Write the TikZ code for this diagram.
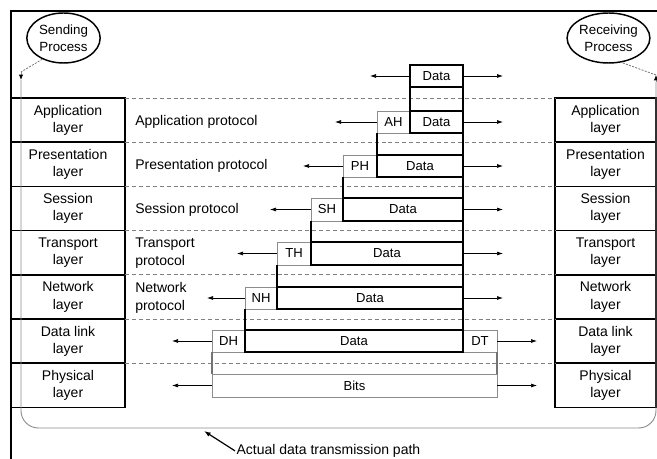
\documentclass[tikz,border=0pt]{standalone}
\usepackage{fontspec}
\setmainfont{Liberation Sans}
\usetikzlibrary{shapes.geometric,arrows.meta}
\newcommand{\bnode}[7]{\node[#1, minimum width={(#5-#3)*0.75pt}, minimum height={(#6-#4)*0.75pt}] (#2) at ({(#3+#5)/2},{(#4+#6)/2}) {#7};}
\tikzset{
 layerbox/.style={draw=black, line width=1.2pt, inner sep=0pt, outer sep=0pt, align=center, font=\fontsize{10.5}{13}\selectfont},
 databox/.style={draw=black, line width=1.1pt, fill=white, inner sep=0pt, outer sep=0pt, font=\fontsize{9.8}{11}\selectfont},
 hdrbox/.style={draw=black!45, line width=0.6pt, fill=white, inner sep=0pt, outer sep=0pt, font=\fontsize{9.8}{11}\selectfont},
 conn/.style={draw=black, line width=1pt},
 lowconn/.style={draw=black!55, line width=1.6pt},
 sidearrow/.style={draw=black, line width=0.5pt, -{Latex[length=4.5pt,width=3pt]}},
 rowdash/.style={draw=black!50, line width=0.5pt, dash pattern=on 3pt off 2.2pt},
 proto/.style={anchor=west, align=left, inner sep=0pt, font=\fontsize{10.5}{13}\selectfont},
 procell/.style={ellipse, draw=black, line width=1.1pt, minimum width=55pt, minimum height=37.5pt, inner sep=0pt, align=center, font=\fontsize{10}{12.5}\selectfont},
 pathline/.style={draw=black!45, line width=0.7pt},
 pathdot/.style={draw=black!55, line width=0.6pt, dash pattern=on 1.5pt off 1pt},
}
\begin{document}
\begin{tikzpicture}[x=0.75pt,y=-0.75pt]
\useasboundingbox (0,0) rectangle (657,459);
% frame
\draw[line width=1.5pt] (11,460) -- (11,11) -- (658,11);
% left layers
\bnode{layerbox}{lapp}{11}{98}{125}{142.2}{Application\\layer}
\bnode{layerbox}{lpre}{11}{142.2}{125}{186.4}{Presentation\\layer}
\bnode{layerbox}{lses}{11}{186.4}{125}{230.6}{Session\\layer}
\bnode{layerbox}{ltra}{11}{230.6}{125}{274.8}{Transport\\layer}
\bnode{layerbox}{lnet}{11}{274.8}{125}{319}{Network\\layer}
\bnode{layerbox}{ldl}{11}{319}{125}{363.2}{Data link\\layer}
\bnode{layerbox}{lphy}{11}{363.2}{125}{407.4}{Physical\\layer}
% right layers
\bnode{layerbox}{rapp}{555}{98}{656}{142.2}{Application\\layer}
\bnode{layerbox}{rpre}{555}{142.2}{656}{186.4}{Presentation\\layer}
\bnode{layerbox}{rses}{555}{186.4}{656}{230.6}{Session\\layer}
\bnode{layerbox}{rtra}{555}{230.6}{656}{274.8}{Transport\\layer}
\bnode{layerbox}{rnet}{555}{274.8}{656}{319}{Network\\layer}
\bnode{layerbox}{rdl}{555}{319}{656}{363.2}{Data link\\layer}
\bnode{layerbox}{rphy}{555}{363.2}{656}{407.4}{Physical\\layer}
% dashed row boundaries
\draw[rowdash] (lapp.north east) -- (rapp.north west);
\draw[rowdash] (lapp.south east) -- (rapp.south west);
\draw[rowdash] (lpre.south east) -- (rpre.south west);
\draw[rowdash] (lses.south east) -- (rses.south west);
\draw[rowdash] (ltra.south east) -- (rtra.south west);
\draw[rowdash] (lnet.south east) -- (rnet.south west);
\draw[rowdash] (ldl.south east) -- (rdl.south west);
% protocol labels
\node[proto] (papp) at (135,122) {Application protocol};
\node[proto] (ppre) at (135,166) {Presentation protocol};
\node[proto] (pses) at (135,210) {Session protocol};
\node[proto] (ptra) at (135,253) {Transport\\protocol};
\node[proto] (pnet) at (135,298) {Network\\protocol};
% stack
\bnode{databox}{d0}{410}{65}{463}{87}{Data}
\bnode{hdrbox}{ah}{377}{111}{410}{133}{AH}
\bnode{databox}{d1}{410}{111}{463}{133}{Data}
\bnode{hdrbox}{ph}{343}{155}{377}{177}{PH}
\bnode{databox}{d2}{377}{155}{463}{177}{Data}
\bnode{hdrbox}{sh}{311}{198}{343}{221}{SH}
\bnode{databox}{d3}{343}{198}{463}{221}{Data}
\bnode{hdrbox}{th}{277}{242}{311}{265}{TH}
\bnode{databox}{d4}{311}{242}{463}{265}{Data}
\bnode{hdrbox}{nh}{245}{287}{277}{309}{NH}
\bnode{databox}{d5}{277}{287}{463}{309}{Data}
\bnode{hdrbox}{dh}{212}{330}{245}{352}{DH}
\bnode{hdrbox}{dt}{463}{330}{497}{352}{DT}
\bnode{databox}{d6}{245}{330}{463}{352}{Data}
\bnode{hdrbox}{bits}{212}{374}{497}{397}{Bits}
% connectors between units
\draw[conn] (d0.south west) -- (d1.north west);
\draw[conn] (d0.south east) -- (d1.north east);
\draw[conn] (ah.south west) -- (d2.north west);
\draw[conn] (d1.south east) -- (d2.north east);
\draw[conn] (ph.south west) -- (d3.north west);
\draw[conn] (d2.south east) -- (d3.north east);
\draw[conn] (sh.south west) -- (d4.north west);
\draw[conn] (d3.south east) -- (d4.north east);
\draw[conn] (th.south west) -- (d5.north west);
\draw[conn] (d4.south east) -- (d5.north east);
\draw[conn] (nh.south west) -- (d6.north west);
\draw[conn] (d5.south east) -- (d6.north east);
\draw[lowconn] (dh.south west) -- (bits.north west);
\draw[lowconn] (dt.south east) -- (bits.north east);
% side arrows
\draw[sidearrow] (d0.west) -- ++(-40,0);
\draw[sidearrow] (d0.east) -- ++(40,0);
\draw[sidearrow] (ah.west) -- ++(-42,0);
\draw[sidearrow] (d1.east) -- ++(40,0);
\draw[sidearrow] (ph.west) -- ++(-40,0);
\draw[sidearrow] (d2.east) -- ++(40,0);
\draw[sidearrow] (sh.west) -- ++(-41,0);
\draw[sidearrow] (d3.east) -- ++(40,0);
\draw[sidearrow] (th.west) -- ++(-40,0);
\draw[sidearrow] (d4.east) -- ++(40,0);
\draw[sidearrow] (nh.west) -- ++(-38,0);
\draw[sidearrow] (d5.east) -- ++(40,0);
\draw[sidearrow] (dh.west) -- ++(-40,0);
\draw[sidearrow] (dt.east) -- ++(40,0);
\draw[sidearrow] (bits.west) -- ++(-40,0);
\draw[sidearrow] (bits.east) -- ++(40,0);
% processes
\node[procell] (sp) at (63.5,38) {Sending\\Process};
\node[procell] (rp) at (608.5,38) {Receiving\\Process};
% transmission path
\coordinate (sa) at (21,72);
\coordinate (sb) at (21,80);
\coordinate (sc) at (21,428);
\coordinate (sd) at (656,428);
\coordinate (se) at (656,82);
\coordinate (sf) at (656,75);
\draw[pathdot] (sp.225) -- (sa);
\draw[pathline, -{Latex[length=4pt,width=3.4pt,color=black]}] (sa) -- (sb);
\draw[pathline, rounded corners=13pt] (sb) -- (sc) -- (sd) -- (se);
\draw[pathline, -{Latex[length=4pt,width=3.4pt,color=black]}] (se) -- (sf);
\draw[pathdot] (sf) -- (rp.-62);
\coordinate (tp) at (204,431);
\node[anchor=base west, inner sep=1pt, font=\fontsize{10.5}{13}\selectfont] (tlabel) at (235,454.5) {Actual data transmission path};
\draw[black, line width=0.9pt, -{Latex[length=5pt,width=3.5pt]}] (tlabel.west) -- (tp);
\end{tikzpicture}
\end{document}
